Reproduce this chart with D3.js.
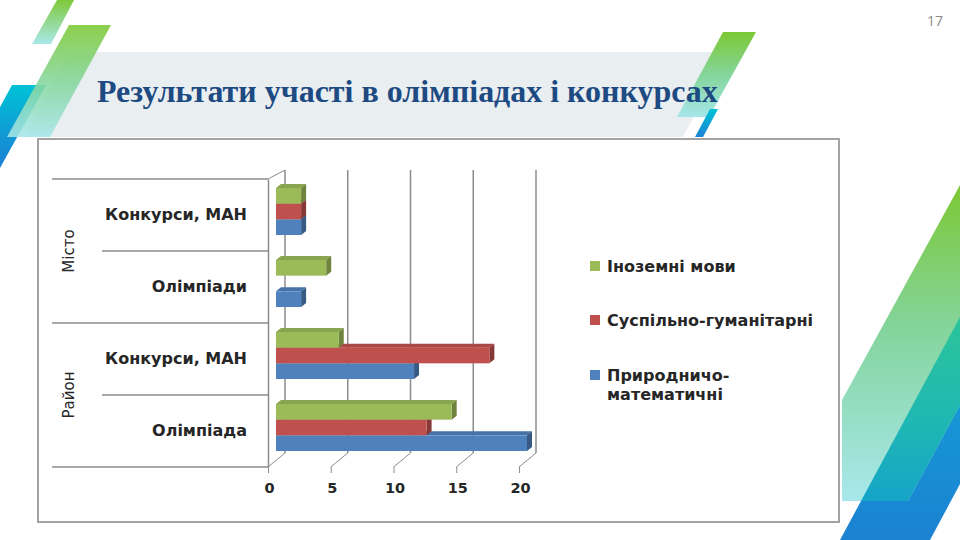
<!DOCTYPE html>
<html>
<head>
<meta charset="utf-8">
<script src="https://cdn.jsdelivr.net/npm/d3@7"></script>
<style>
  body { margin: 0; background: #fff; }
  svg { display: block; }
</style>
</head>
<body>
<div id="wrapper"></div>
<script>
// data
const categories = ["Конкурси, МАН", "Олімпіади", "Конкурси, МАН", "Олімпіада"]
const categoryGroups = ["Місто", "Місто", "Район", "Район"]
const groups = ["Місто", "Район"]
const seriesNames = ["Іноземні мови", "Суспільно-гуманітарні", "Природничо-математичні"]
const foreignLang = [2, 4, 5, 14]
const socialHum = [2, 0, 17, 12]
const naturalMath = [2, 2, 11, 20]
const xTicks = [0, 5, 10, 15, 20]
const colors = ["#9bbb59", "#c0504d", "#4f81bd"]

function drawChart() {
  const width = 960
  const height = 540

  const svg = d3.select("#wrapper")
    .append("svg")
      .attr("width", width)
      .attr("height", height)

  const defs = svg.append("defs")
  const grad = (id, y1, y2, stops) => {
    const g = defs.append("linearGradient")
      .attr("id", id)
      .attr("gradientUnits", "userSpaceOnUse")
      .attr("x1", 0).attr("x2", 0)
      .attr("y1", y1).attr("y2", y2)
    stops.forEach(s => g.append("stop").attr("offset", s[0]).attr("stop-color", s[1]))
  }
  grad("gTopSmall", 0, 44, [[0, "#7dc93a"], [1, "#a9e8ea"]])
  grad("gBigLeft", 25, 137, [[0, "#7cc834"], [0.5, "#84d69a"], [1, "#a6e6ea"]])
  grad("gBlueLeft", 85, 168, [[0, "#00c2d6"], [1, "#1b7fd3"]])
  grad("gRightTop", 32, 117, [[0, "#7cc834"], [0.5, "#84d69a"], [1, "#a6e6ea"]])
  grad("gBlueRight", 109, 137, [[0, "#00c2d6"], [1, "#1b82d4"]])
  grad("gBigRight", 185, 501, [[0, "#7cc834"], [0.45, "#84d49c"], [1, "#a8e8ec"]])
  grad("gBlueBR", 317, 540, [[0, "#12a6d8"], [1, "#1b82d2"]])
  grad("gTealBR", 317, 501, [[0, "#2cc49a"], [0.55, "#1fb8b2"], [1, "#16a4c8"]])

  // --- slide decoration ---
  const poly = pts => pts.map(p => p.join(",")).join(" ")
  const deco = svg.append("g")

  // title band
  deco.append("polygon")
    .attr("points", poly([[70, 52], [728, 52], [683, 137], [25, 137]]))
    .attr("fill", "#e9eef1")

  deco.append("polygon")
    .attr("points", poly([[57, 0], [74, 0], [51, 44], [32, 44]]))
    .attr("fill", "url(#gTopSmall)")
  deco.append("polygon")
    .attr("points", poly([[12, 85], [46, 85], [0, 168], [0, 107]]))
    .attr("fill", "url(#gBlueLeft)")
  deco.append("polygon")
    .attr("points", poly([[69, 25], [111, 25], [50, 137], [7, 137]]))
    .attr("fill", "url(#gBigLeft)")
    .attr("opacity", 0.88)

  deco.append("polygon")
    .attr("points", poly([[723, 32], [756, 32], [709, 117], [677, 117]]))
    .attr("fill", "url(#gRightTop)")
  deco.append("polygon")
    .attr("points", poly([[710, 109], [718, 109], [703, 137], [695, 137]]))
    .attr("fill", "url(#gBlueRight)")

  // bottom-right stripes
  deco.append("polygon")
    .attr("points", poly([[960, 317], [960, 484], [930, 540], [840, 540]]))
    .attr("fill", "url(#gBlueBR)")
  deco.append("polygon")
    .attr("points", poly([[960, 185], [960, 405], [908, 501], [842, 501], [842, 400]]))
    .attr("fill", "url(#gBigRight)")
  deco.append("polygon")
    .attr("points", poly([[960, 317], [960, 405], [908, 501], [861, 501]]))
    .attr("fill", "url(#gTealBR)")

  const title = svg.append("text")
    .attr("x", 97)
    .attr("y", 102)
    .attr("fill", "#1d4a82")
    .style("font-family", "'Liberation Serif', serif")
    .style("font-weight", "bold")
    .style("font-size", "30px")
    .text("Результати участі в олімпіадах і конкурсах")
  const titleLen = title.node().getComputedTextLength()
  title.style("font-size", (30 * 621 / titleLen) + "px")

  svg.append("text")
    .attr("x", 943)
    .attr("y", 26)
    .attr("text-anchor", "end")
    .attr("fill", "#8a8a8a")
    .style("font-family", "'Open Sans', sans-serif")
    .style("font-size", "14px")
    .text("17")

  // --- chart box ---
  svg.append("rect")
    .attr("x", 38)
    .attr("y", 139)
    .attr("width", 801)
    .attr("height", 383)
    .attr("fill", "#fff")
    .attr("stroke", "#a3a3a3")
    .attr("stroke-width", 2)

  const font = "'DejaVu Sans', Verdana, sans-serif"
  const textColor = "#262626"
  const lineColor = "#8c8c8c"

  const xScale = d3.scaleLinear()
    .domain([0, 20])
    .range([268, 519])

  const yScale = d3.scaleBand()
    .domain(d3.range(categories.length))
    .range([179, 467])

  const depthX = 17
  const backTop = 170
  const backBottom = 453
  const frontTop = yScale.range()[0]
  const frontBottom = yScale.range()[1]

  const chart = svg.append("g")

  // back wall gridlines
  chart.selectAll(".grid")
    .data(xTicks)
    .join("line")
      .attr("x1", d => xScale(d) + depthX)
      .attr("x2", d => xScale(d) + depthX)
      .attr("y1", backTop)
      .attr("y2", backBottom)
      .attr("stroke", lineColor)
      .attr("stroke-width", 1.5)

  // floor lines
  chart.selectAll(".floor")
    .data(xTicks)
    .join("line")
      .attr("x1", d => xScale(d))
      .attr("x2", d => xScale(d) + depthX)
      .attr("y1", frontBottom)
      .attr("y2", backBottom)
      .attr("stroke", lineColor)
      .attr("stroke-width", 1)

  // side wall top edge
  chart.append("line")
    .attr("x1", xScale(0)).attr("y1", frontTop)
    .attr("x2", xScale(0) + depthX).attr("y2", backTop)
    .attr("stroke", lineColor)

  // x axis
  const xAxis = chart.append("g")
    .attr("transform", `translate(0,${frontBottom})`)
    .call(d3.axisBottom(xScale).tickValues(xTicks).tickSize(6).tickSizeOuter(0))
  xAxis.select(".domain").remove()
  xAxis.selectAll("line").attr("stroke", lineColor)
  xAxis.selectAll("text")
    .attr("y", 16)
    .attr("dx", 1)
    .attr("fill", textColor)
    .style("font-family", font)
    .style("font-weight", "bold")
    .style("font-size", "14.5px")

  // category separators
  const sepY = d3.range(categories.length + 1).map(i =>
    i < categories.length ? yScale(i) : frontBottom)
  chart.selectAll(".sep")
    .data(sepY)
    .join("line")
      .attr("x1", (d, i) => i % 2 === 0 ? 52 : 102)
      .attr("x2", xScale(0))
      .attr("y1", d => d)
      .attr("y2", d => d)
      .attr("stroke", lineColor)
      .attr("stroke-width", 1.5)

  // y axis (category)
  const yAxis = chart.append("g")
    .attr("transform", `translate(${xScale(0)},0)`)
    .call(d3.axisLeft(yScale).tickSize(0).tickPadding(21).tickFormat(i => categories[i]))
  yAxis.select(".domain").attr("stroke", lineColor).attr("stroke-width", 1.5)
  yAxis.selectAll("text")
    .attr("fill", textColor)
    .style("font-family", font)
    .style("font-weight", "bold")
    .style("font-size", "16px")

  // group labels
  groups.forEach(g => {
    const idx = categoryGroups.map((c, i) => c === g ? i : -1).filter(i => i >= 0)
    const y0 = yScale(idx[0])
    const y1 = yScale(idx[idx.length - 1]) + yScale.bandwidth()
    const cy = (y0 + y1) / 2
    chart.append("text")
      .attr("transform", `translate(69,${cy}) rotate(-90)`)
      .attr("text-anchor", "middle")
      .attr("dy", "0.35em")
      .attr("fill", textColor)
      .style("font-family", font)
      .style("font-size", "15px")
      .text(g)
  })

  // bars
  const seriesValues = [foreignLang, socialHum, naturalMath]
  const barOffX = 8
  const barOffY = -3.5
  const groupH = 47
  const inner = d3.scaleBand()
    .domain(seriesNames)
    .range([0, groupH])
  const ex = 5
  const ey = -4

  const bars = []
  // draw from bottom series upward so upper bars cover top faces
  for (let s = seriesNames.length - 1; s >= 0; s--) {
    categories.forEach((c, i) => {
      const v = seriesValues[s][i]
      if (v <= 0) return
      const y0 = yScale(i) + (yScale.bandwidth() - groupH) / 2 + barOffY + inner(seriesNames[s])
      bars.push({
        x0: xScale(0) + barOffX,
        x1: xScale(v) + barOffX,
        y0: y0,
        y1: y0 + inner.bandwidth(),
        color: colors[s],
      })
    })
  }

  const barG = chart.selectAll(".bar")
    .data(bars)
    .join("g")

  barG.append("polygon")
    .attr("points", d => poly([[d.x0, d.y0], [d.x0 + ex, d.y0 + ey], [d.x1 + ex, d.y0 + ey], [d.x1, d.y0]]))
    .attr("fill", d => d3.color(d.color).darker(0.35))
  barG.append("polygon")
    .attr("points", d => poly([[d.x1, d.y0], [d.x1 + ex, d.y0 + ey], [d.x1 + ex, d.y1 + ey], [d.x1, d.y1]]))
    .attr("fill", d => d3.color(d.color).darker(1))
  barG.append("rect")
    .attr("x", d => d.x0)
    .attr("y", d => d.y0)
    .attr("width", d => d.x1 - d.x0)
    .attr("height", d => d.y1 - d.y0)
    .attr("fill", d => d.color)

  // legend
  const legendItems = [
    { lines: ["Іноземні мови"], color: colors[0], y: 266 },
    { lines: ["Суспільно-гуманітарні"], color: colors[1], y: 320 },
    { lines: ["Природничо-", "математичні"], color: colors[2], y: 375 },
  ]
  const legend = svg.append("g")
  const li = legend.selectAll("g")
    .data(legendItems)
    .join("g")
      .attr("transform", d => `translate(590,${d.y})`)
  li.append("rect")
    .attr("x", 0)
    .attr("y", -5)
    .attr("width", 10)
    .attr("height", 10)
    .attr("fill", d => d.color)
  li.append("text")
    .attr("fill", textColor)
    .style("font-family", font)
    .style("font-weight", "bold")
    .style("font-size", "16px")
    .selectAll("tspan")
    .data(d => d.lines)
    .join("tspan")
      .attr("x", 17)
      .attr("y", (d, i) => i * 19)
      .attr("dy", "0.35em")
      .text(d => d)
}

drawChart()
</script>
</body>
</html>
